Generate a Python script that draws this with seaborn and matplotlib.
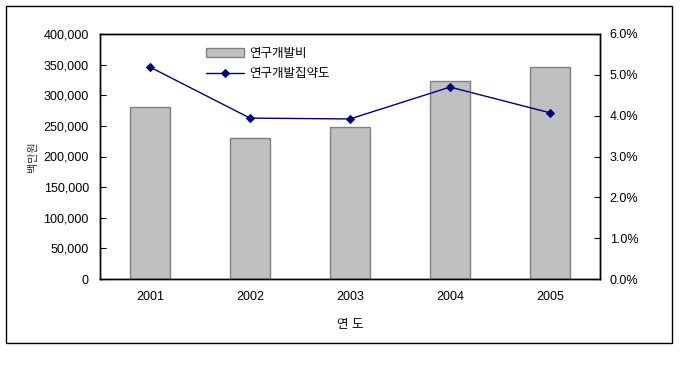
import matplotlib
matplotlib.use("Agg")
import matplotlib.pyplot as plt
import matplotlib.patches as patches
from matplotlib.ticker import FuncFormatter, FixedLocator
import seaborn as sns

# --- 데이터 ---
years = ["2001", "2002", "2003", "2004", "2005"]
rd_cost = [281000, 230000, 248000, 323000, 346000]      # 연구개발비 (백만원)
rd_intensity = [0.0519, 0.0394, 0.0392, 0.0470, 0.0407]  # 연구개발집약도

sns.set_style("white")
plt.rcParams["font.family"] = ["Liberation Sans", "Noto Sans CJK KR"]
plt.rcParams["font.size"] = 9
plt.rcParams["text.color"] = "black"
plt.rcParams["axes.labelcolor"] = "black"
plt.rcParams["xtick.color"] = "black"
plt.rcParams["ytick.color"] = "black"

fig = plt.figure(figsize=(6.92, 3.84), dpi=100)
ax = fig.add_axes([100 / 692, 1 - 279 / 384, 500 / 692, 245 / 384])

# 막대: 연구개발비
sns.barplot(x=years, y=rd_cost, ax=ax, color="#C0C0C0", width=0.4,
            edgecolor="#808080", linewidth=1, label="연구개발비", saturation=1)

ax.set_ylim(0, 400000)
ax.set_xlim(-0.5, 4.5)
ax.set_yticks(range(0, 400001, 50000))
ax.yaxis.set_major_formatter(FuncFormatter(lambda v, p: f"{int(v):,}"))
ax.tick_params(axis="y", direction="in", length=4, pad=8, labelsize=9)
ax.tick_params(axis="x", which="major", length=0, pad=9, labelsize=9)
ax.xaxis.set_minor_locator(FixedLocator([0.5, 1.5, 2.5, 3.5]))
ax.tick_params(axis="x", which="minor", direction="in", length=4)
for s in ax.spines.values():
    s.set_color("black")
    s.set_linewidth(1)

ax.set_ylabel("백만원", fontsize=8, labelpad=4, color="#333333")
ax.set_xlabel("연 도", fontsize=9, labelpad=11)

# 선: 연구개발집약도
ax2 = ax.twinx()
sns.lineplot(x=years, y=rd_intensity, ax=ax2, color="#000080", marker="D",
             markersize=4.5, markeredgecolor="#000080", linewidth=1,
             sort=False, label="연구개발집약도")
ax2.set_ylim(0, 0.06)
ax2.set_yticks([0, 0.01, 0.02, 0.03, 0.04, 0.05, 0.06])
ax2.yaxis.set_major_formatter(FuncFormatter(lambda v, p: f"{v * 100:.1f}%"))
ax2.tick_params(axis="y", direction="in", length=4, pad=7, labelsize=9)
for s in ax2.spines.values():
    s.set_color("black")
    s.set_linewidth(1)
ax2.set_ylabel("")

# 범례
h1, l1 = ax.get_legend_handles_labels()
h2, l2 = ax2.get_legend_handles_labels()
if ax2.get_legend() is not None:
    ax2.get_legend().remove()
if ax.get_legend() is not None:
    ax.get_legend().remove()
ax2.legend(h1 + h2, l1 + l2, loc="upper left", bbox_to_anchor=(0.19, 0.99),
           frameon=False, fontsize=9, handlelength=3.0, labelspacing=0.7,
           handletextpad=0.4)

# 바깥 테두리
fig.patches.append(patches.Rectangle((6 / 692, 1 - 343 / 384), 666 / 692, 337 / 384,
                                     transform=fig.transFigure, fill=False,
                                     edgecolor="black", linewidth=1))

fig.savefig("out.png", dpi=100)
